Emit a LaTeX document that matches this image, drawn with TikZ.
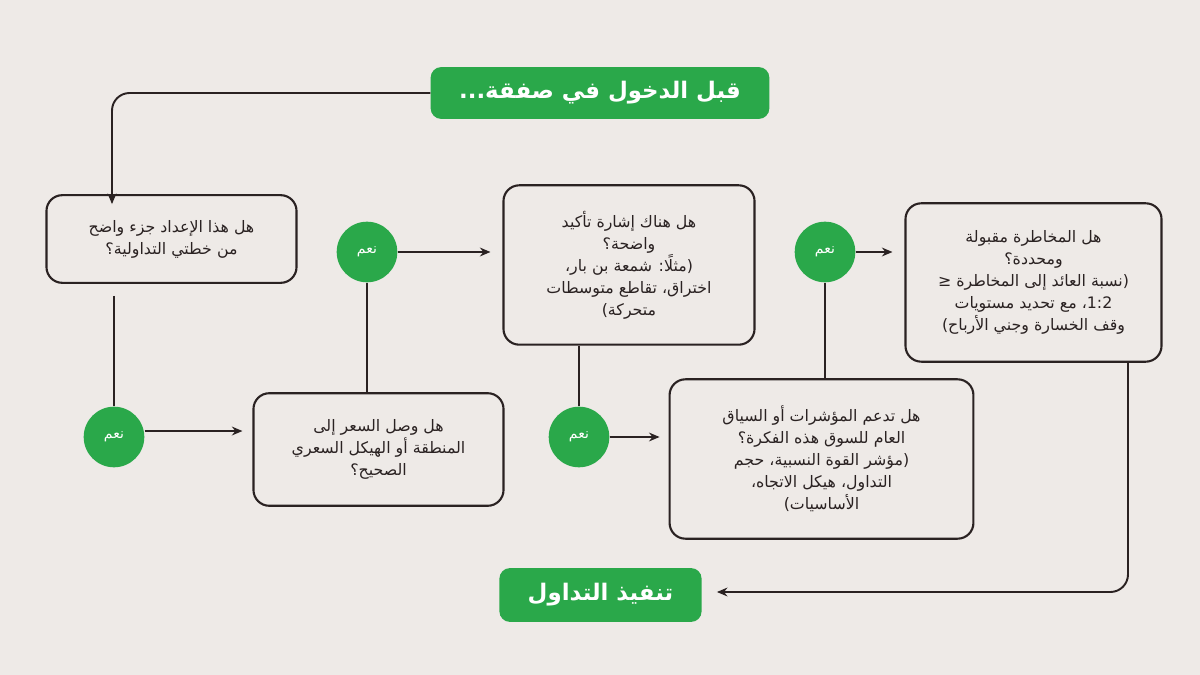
\documentclass[tikz,border=0pt]{standalone}
\usepackage{fontspec}
\TeXXeTstate=1
\newfontfamily\arabicfont[Script=Arabic]{DejaVu Sans}
\usetikzlibrary{arrows.meta}
\newcommand{\ar}[1]{\beginR #1\endR}
\definecolor{bg}{HTML}{EEEAE7}
\definecolor{grn}{HTML}{2AA84A}
\definecolor{ink}{HTML}{2A2222}
\begin{document}
\begin{tikzpicture}[x=0.02cm,y=-0.02cm,
  box/.style={draw=ink,line width=1.2pt,rounded corners=9pt,fill=bg,font=\arabicfont\fontsize{9}{12.5}\selectfont,align=center,inner sep=0pt,text=ink},
  yes/.style={circle,fill=grn,minimum size=34.5pt,inner sep=0pt,font=\arabicfont\fontsize{8}{10}\selectfont,text=white},
  ttl/.style={fill=grn,rounded corners=6pt,inner sep=0pt,font=\arabicfont\bfseries\fontsize{13}{15}\selectfont,text=white},
  con/.style={draw=ink,line width=1.1pt},
  arr/.style={con,-{Stealth[length=6pt,width=5pt]}}]
\fill[bg] (0,0) rectangle (1200,675);
\node[ttl,minimum width=340*0.567pt,minimum height=52*0.567pt] (t) at (600,93) {\ar{قبل الدخول في صفقة...}};
\node[box,minimum width=251*0.567pt,minimum height=88*0.567pt] (b1) at (171.5,239) {\ar{هل هذا الإعداد جزء واضح}\\\ar{من خطتي التداولية؟}};
\node[box,minimum width=251*0.567pt,minimum height=113*0.567pt] (b2) at (378.5,449.5) {\ar{هل وصل السعر إلى}\\\ar{المنطقة أو الهيكل السعري}\\\ar{الصحيح؟}};
\node[box,minimum width=252*0.567pt,minimum height=160*0.567pt] (b3) at (629,265) {\ar{هل هناك إشارة تأكيد}\\\ar{واضحة؟}\\\ar{(مثلًا: شمعة بن بار،}\\\ar{اختراق، تقاطع متوسطات}\\\ar{متحركة)}};
\node[box,minimum width=305*0.567pt,minimum height=160*0.567pt] (b4) at (821.5,459) {\ar{هل تدعم المؤشرات أو السياق}\\\ar{العام للسوق هذه الفكرة؟}\\\ar{(مؤشر القوة النسبية، حجم}\\\ar{التداول، هيكل الاتجاه،}\\\ar{الأساسيات)}};
\node[box,minimum width=257*0.567pt,minimum height=159*0.567pt] (b5) at (1033.5,282.5) {\ar{هل المخاطرة مقبولة}\\\ar{ومحددة؟}\\\ar{(نسبة العائد إلى المخاطرة ≤}\\\ar{\beginL 1:2\endL، مع تحديد مستويات}\\\ar{وقف الخسارة وجني الأرباح)}};
\node[ttl,minimum width=203*0.567pt,minimum height=54*0.567pt] (f) at (600.5,595) {\ar{تنفيذ التداول}};
\node[yes] (c1) at (114,437) {\ar{نعم}};
\node[yes] (c2) at (367,252) {\ar{نعم}};
\node[yes] (c3) at (579,437) {\ar{نعم}};
\node[yes] (c4) at (825,252) {\ar{نعم}};
\coordinate (k1) at (112,93);
\coordinate (k2) at (1128,592);
\draw[arr,rounded corners=10pt] (t.west) -- (k1) -- ([yshift=-10*0.567pt]b1.north -| k1);
\draw[con] ([yshift=-12*0.567pt]b1.south -| c1) -- (c1.north);
\draw[arr] ([yshift=6*0.567pt]c1.east) -- ([xshift=-10*0.567pt,yshift=6*0.567pt]b2.west |- c1.east);
\draw[con] (b2.north -| c2) -- (c2.south);
\draw[arr] (c2.east) -- ([xshift=-12*0.567pt]b3.west |- c2.east);
\draw[con] (b3.south -| c3) -- (c3.north);
\draw[arr] (c3.east) -- ([xshift=-9*0.567pt]b4.west |- c3.east);
\draw[con] (b4.north -| c4) -- (c4.south);
\draw[arr] (c4.east) -- ([xshift=-12*0.567pt]b5.west |- c4.east);
\draw[arr,rounded corners=10pt] (b5.south -| k2) -- (k2) -- ([xshift=15*0.567pt]f.east |- k2);
\end{tikzpicture}
\end{document}
